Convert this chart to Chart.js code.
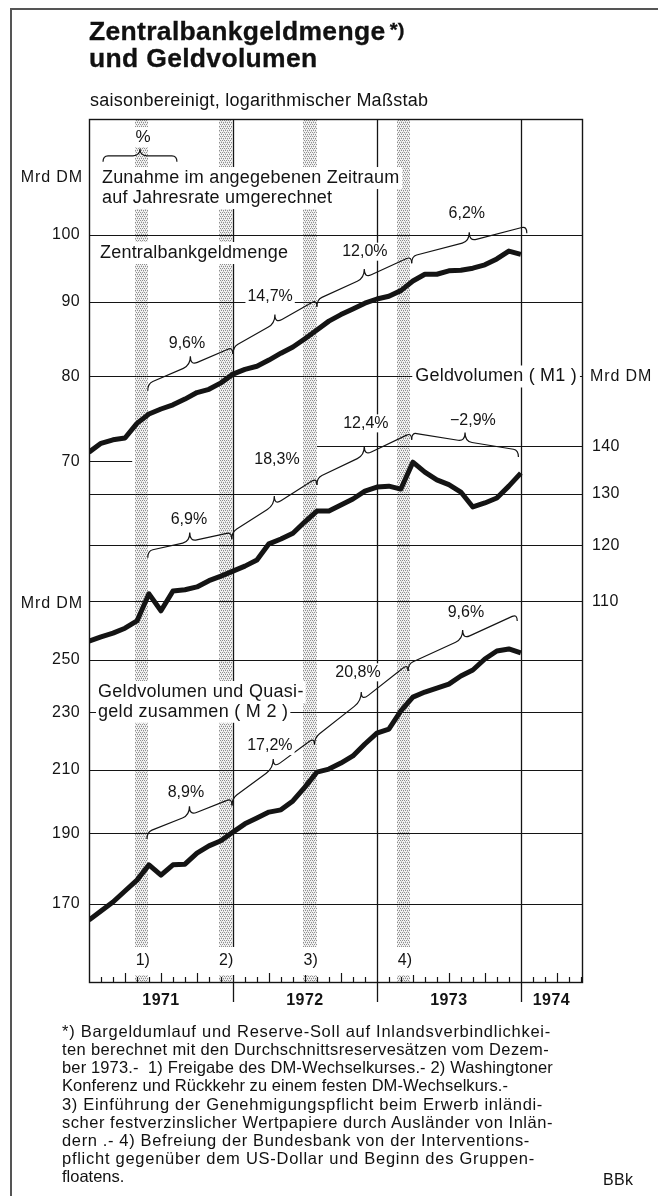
<!DOCTYPE html>
<html lang="de"><head><meta charset="utf-8">
<script src="https://cdn.jsdelivr.net/npm/chart.js@4.4.0/dist/chart.umd.min.js"></script>
<style>
html,body{margin:0;padding:0;background:#fff;}
body{width:658px;height:1196px;position:relative;overflow:hidden;font-family:"Liberation Sans",Arial,Helvetica,sans-serif;color:#111;}
#c{position:absolute;left:0;top:0;}
.fl{position:absolute;left:10px;top:8px;width:1.5px;height:1188px;background:#555;}
.ft{position:absolute;left:10px;top:8px;width:648px;height:1.5px;background:#555;}
#title{position:absolute;left:89px;top:19px;font-weight:bold;font-size:25px;line-height:24px;letter-spacing:0.3px;white-space:nowrap;z-index:2;transform:scaleX(1.06);transform-origin:0 0;-webkit-text-stroke:0.3px #111;}
#title .ast{font-size:19px;position:relative;top:-4px;margin-left:4px;}
#sub{position:absolute;left:90px;top:91px;font-size:18px;line-height:18px;letter-spacing:0.25px;white-space:nowrap;z-index:2;}
#foot{position:absolute;left:62px;top:1022px;font-size:16.5px;line-height:18.15px;z-index:2;}
#foot div{white-space:nowrap;height:18.15px;}
#bbk{position:absolute;left:603px;top:1171px;font-size:16px;line-height:18px;letter-spacing:0.3px;z-index:2;}
</style></head>
<body>
<div class="fl"></div><div class="ft"></div>
<div id="title">Zentralbankgeldmenge<span class="ast">*)</span><br>und Geldvolumen</div>
<div id="sub">saisonbereinigt, logarithmischer Maßstab</div>
<canvas id="c" width="658" height="1196"></canvas>
<div id="foot">
<div data-w="489">*) Bargeldumlauf und Reserve-Soll auf Inlandsverbindlichkei-</div>
<div data-w="487">ten berechnet mit den Durchschnittsreservesätzen vom Dezem-</div>
<div data-w="491">ber 1973.-&nbsp; 1) Freigabe des DM-Wechselkurses.- 2) Washingtoner</div>
<div data-w="446">Konferenz und Rückkehr zu einem festen DM-Wechselkurs.-</div>
<div data-w="481">3) Einführung der Genehmigungspflicht beim Erwerb inländi-</div>
<div data-w="491">scher festverzinslicher Wertpapiere durch Ausländer von Inlän-</div>
<div data-w="468">dern .- 4) Befreiung der Bundesbank von der Interventions-</div>
<div data-w="473">pflicht gegenüber dem US-Dollar und Beginn des Gruppen-</div>
<div>floatens.</div>
</div>
<div id="bbk">BBk</div>
<script>
// fit footnote lines to their printed widths
document.querySelectorAll('#foot div[data-w]').forEach(d => {
  const s = document.createElement('span'); s.innerHTML = d.innerHTML; d.innerHTML = ''; d.appendChild(s);
  const nat = s.getBoundingClientRect().width, n = s.textContent.length;
  d.style.letterSpacing = ((+d.dataset.w - nat) / n) + 'px';
});

// ---------------- data ----------------
const monthLabels = ['Dez 1970',
 'Jan 1971','Feb 1971','Mär 1971','Apr 1971','Mai 1971','Jun 1971','Jul 1971','Aug 1971','Sep 1971','Okt 1971','Nov 1971','Dez 1971',
 'Jan 1972','Feb 1972','Mär 1972','Apr 1972','Mai 1972','Jun 1972','Jul 1972','Aug 1972','Sep 1972','Okt 1972','Nov 1972','Dez 1972',
 'Jan 1973','Feb 1973','Mär 1973','Apr 1973','Mai 1973','Jun 1973','Jul 1973','Aug 1973','Sep 1973','Okt 1973','Nov 1973','Dez 1973'];
const zentralbankgeldmenge = [71.0,72.0,72.4,72.6,74.3,75.4,76.0,76.5,77.2,78.0,78.4,79.2,80.3,80.9,81.3,82.1,83.0,83.8,84.9,86.1,87.3,88.2,89.0,89.8,90.4,90.8,91.6,93.0,94.0,94.0,94.5,94.6,94.9,95.4,96.3,97.5,97.0];
const geldvolumenM1 = [103.4,104.1,104.7,105.5,106.7,111.3,108.4,111.8,112.0,112.5,113.6,114.4,115.3,116.2,117.3,120.3,121.2,122.3,124.5,126.6,126.6,127.8,129.0,130.6,131.4,131.6,131.0,136.6,134.5,132.9,131.9,130.4,127.4,128.2,129.2,131.6,134.3];
const geldvolumenM2 = [165.7,168.1,170.5,173.5,176.5,180.8,177.9,180.8,181.0,184.2,186.3,187.8,190.4,192.9,194.7,196.5,197.2,200.0,204.4,209.3,210.3,212.3,214.7,218.8,222.6,224.0,230.5,235.6,237.5,239.0,240.5,243.6,245.9,250.2,253.4,254.2,252.6];

const ticksZ = [100, 90, 80, 70];
const ticksM1 = [140, 130, 120, 110];
const ticksM2 = [250, 230, 210, 190, 170];
const years = ['1971', '1972', '1973', '1974'];
const eventLabels = ['1)', '2)', '3)', '4)'];
const eventSpans = [[3.85, 4.95], [10.8, 11.9], [17.8, 19.0], [25.7, 26.8]]; // in months since end of Dec 1970

// growth-rate braces: [from month, from value, to month, to value, label, label month, label value]
const ratesZ = [[4.9,79.1,12,83.8,'9,6%',8.17,84.2],[12,83.8,19,90.3,'14,7%',15.1,90.7],[19,90.3,26.9,96.7,'12,0%',23,97.4],[26.9,96.7,36.5,101.4,'6,2%',31.5,103.5]];
const ratesM1 = [[4.9,119.0,11.9,122.5,'6,9%',8.33,124.9],[11.9,122.5,19,133.3,'18,3%',15.67,137.2],[19,133.3,26.9,143.0,'12,4%',23.08,145.1],[26.9,143.0,35.8,139.2,'\u22122,9%',32,145.8]];
const ratesM2 = [[4.83,190.4,11.92,200.8,'8,9%',8.08,202.8],[11.92,200.8,18.8,221.0,'17,2%',15.08,218.1],[18.8,221.0,26.6,248.2,'20,8%',22.42,245.0],[26.6,248.2,35.7,268.6,'9,6%',31.42,269.4]];

// ---------------- layout ----------------
const W = 658, H = 1196, TOP = 119, BOTTOM = 982, LEFT = 89, RIGHT = 582;
const XMAX = 41.1;
function logRange(refVal, refPx, pxPerDecade) {
  const l = Math.log10(refVal);
  return { min: Math.pow(10, l - (BOTTOM - refPx) / pxPerDecade), max: Math.pow(10, l + (refPx - TOP) / pxPerDecade) };
}
const rZ = logRange(100, 235, 1460), rM1 = logRange(130, 494, 1480), rM2 = logRange(210, 770, 1459);
const FONT = '"Liberation Sans", Arial, Helvetica, sans-serif';
const INK = '#141414';

// stipple pattern for event bands
const pc = document.createElement('canvas'); pc.width = 4; pc.height = 4;
const pctx = pc.getContext('2d');
pctx.fillStyle = '#f2f2f2'; pctx.fillRect(0, 0, 4, 4);
pctx.fillStyle = '#8e8e8e';
[[0,0],[2,0],[1,2],[3,2]].forEach(([a,b]) => pctx.fillRect(a, b, 1, 1));
pctx.fillStyle = '#c4c4c4';
[[1,1],[3,3]].forEach(([a,b]) => pctx.fillRect(a, b, 1, 1));

function setSpacing(ctx, px) { if ('letterSpacing' in ctx) ctx.letterSpacing = px + 'px'; }
function text(ctx, s, x, y, opt) {
  opt = opt || {};
  ctx.font = opt.font || ('16px ' + FONT);
  setSpacing(ctx, opt.sp || 0);
  ctx.textAlign = opt.align || 'left';
  ctx.textBaseline = 'middle';
  if (opt.box) {
    const w = ctx.measureText(s).width;
    const lx = opt.align === 'center' ? x - w / 2 : opt.align === 'right' ? x - w : x;
    const bh = opt.bh || 20;
    ctx.fillStyle = '#fff';
    ctx.fillRect(lx - opt.box, y - bh / 2, w + 2 * opt.box, bh);
  }
  ctx.fillStyle = INK;
  ctx.fillText(s, x, y);
  setSpacing(ctx, 0);
}
function brace(ctx, x1, y1, x2, y2, hook, tip) {
  const yAt = x => y1 + (y2 - y1) * (x - x1) / (x2 - x1);
  const xm = (x1 + x2) / 2, r = 5;
  ctx.beginPath();
  ctx.moveTo(x1, yAt(x1) + hook);
  ctx.quadraticCurveTo(x1, yAt(x1), x1 + r, yAt(x1 + r));
  ctx.lineTo(xm - r - 2, yAt(xm - r - 2));
  ctx.quadraticCurveTo(xm, yAt(xm), xm, yAt(xm) - tip);
  ctx.quadraticCurveTo(xm, yAt(xm), xm + r + 2, yAt(xm + r + 2));
  ctx.lineTo(x2 - r, yAt(x2 - r));
  ctx.quadraticCurveTo(x2, yAt(x2), x2, yAt(x2) + hook);
  ctx.stroke();
}

const decor = {
  id: 'decor',
  beforeDatasetsDraw(chart) {
    const { ctx, chartArea: a, scales } = chart;
    const x = scales.x, yZ = scales.yZ, y1 = scales.yM1, y2 = scales.yM2;
    const px = m => x.getPixelForValue(m);
    ctx.save();
    // event bands
    ctx.fillStyle = ctx.createPattern(pc, 'repeat');
    eventSpans.forEach(([s, e]) => ctx.fillRect(Math.round(px(s)), a.top, Math.round(px(e) - px(s)), a.bottom - a.top));
    // horizontal grid lines
    ctx.strokeStyle = INK; ctx.lineWidth = 1.1;
    const hline = (sc, v, m0, m1) => { const yy = Math.round(sc.getPixelForValue(v)) + 0.5; ctx.beginPath(); ctx.moveTo(px(m0), yy); ctx.lineTo(px(m1), yy); ctx.stroke(); };
    ticksZ.forEach(v => hline(yZ, v, 0, v === 70 ? 3.6 : XMAX));
    ticksM1.forEach(v => hline(y1, v, v === 140 ? 19 : 0, XMAX));
    ticksM2.forEach(v => hline(y2, v, 0, XMAX));
    // year boundaries
    ctx.lineWidth = 1.3;
    [12, 24, 36].forEach(m => { const xx = Math.round(px(m)) + 0.5; ctx.beginPath(); ctx.moveTo(xx, a.top); ctx.lineTo(xx, a.bottom + 20); ctx.stroke(); });
    // frame
    ctx.lineWidth = 1.4;
    ctx.strokeRect(a.left + 0.5, a.top + 0.5, a.right - a.left, a.bottom - a.top);
    // month ticks
    ctx.lineWidth = 1.2;
    for (let m = 1; m < XMAX; m++) {
      if (m % 12 === 0) continue;
      const xx = Math.round(px(m)) + 0.5, h = m % 3 === 0 ? 9 : 5;
      ctx.beginPath(); ctx.moveTo(xx, a.bottom); ctx.lineTo(xx, a.bottom - h); ctx.stroke();
    }
    // year labels
    years.forEach((t, i) => {
      const s = i * 12, e = Math.min(XMAX, s + 12);
      text(ctx, t, px((s + e) / 2), a.bottom + 19, { font: 'bold 16px ' + FONT, align: 'center', sp: 0.4 });
    });
    // event labels
    eventSpans.forEach(([s, e], i) => text(ctx, eventLabels[i], px((s + e) / 2) + 1, a.bottom - 21, { align: 'center', box: 3, bh: 28 }));
    // axis labels left
    const lf = '16px ' + FONT;
    ticksZ.forEach(v => text(ctx, String(v), a.left - 9, yZ.getPixelForValue(v), { font: lf, align: 'right', sp: 0.4 }));
    ticksM2.forEach(v => text(ctx, String(v), a.left - 9, y2.getPixelForValue(v), { font: lf, align: 'right', sp: 0.4 }));
    text(ctx, 'Mrd DM', a.left - 6, yZ.getPixelForValue(109.5), { font: lf, align: 'right', sp: 0.9 });
    text(ctx, 'Mrd DM', a.left - 6, y1.getPixelForValue(110) + 2, { font: lf, align: 'right', sp: 0.9 });
    // axis labels right
    ticksM1.forEach(v => text(ctx, String(v), a.right + 10, y1.getPixelForValue(v), { font: lf, align: 'left', sp: 0.4 }));
    text(ctx, 'Mrd DM', a.right + 8, yZ.getPixelForValue(80), { font: lf, align: 'left', sp: 0.9 });
    // series captions
    const sf = '18px ' + FONT;
    text(ctx, 'Zunahme im angegebenen Zeitraum', px(1.08), yZ.getPixelForValue(109.4), { font: sf, sp: 0.2, box: 3, bh: 22 });
    text(ctx, 'auf Jahresrate umgerechnet', px(1.08), yZ.getPixelForValue(106.0), { font: sf, sp: 0.2, box: 3, bh: 22 });
    text(ctx, 'Zentralbankgeldmenge', px(0.92), yZ.getPixelForValue(97.2), { font: sf, sp: 0.2, box: 3, bh: 22 });
    text(ctx, 'Geldvolumen ( M1 )', px(27.2), yZ.getPixelForValue(80), { font: sf, sp: 0.2, box: 3, bh: 22 });
    text(ctx, 'Geldvolumen und Quasi-', px(0.75), y2.getPixelForValue(237.5), { font: sf, sp: 0.3, box: 2, bh: 22 });
    text(ctx, 'geld zusammen ( M 2 )', px(0.75), y2.getPixelForValue(230.2), { font: sf, sp: 0.3, box: 2, bh: 22 });
    // legend brace
    text(ctx, '%', px(4.5), yZ.getPixelForValue(116.7), { font: '17px ' + FONT, align: 'center', box: 4, bh: 20 });
    ctx.strokeStyle = INK; ctx.lineWidth = 1.2;
    brace(ctx, px(1.17), yZ.getPixelForValue(113.3), px(7.33), yZ.getPixelForValue(113.3), 6, 7);
    // growth braces
    const pf = '16px ' + FONT;
    [[ratesZ, yZ], [ratesM1, y1], [ratesM2, y2]].forEach(([list, sc]) => {
      list.forEach(([m0, v0, m1, v1, lab, lm, lv]) => {
        ctx.strokeStyle = INK; ctx.lineWidth = 1.2;
        brace(ctx, px(m0), sc.getPixelForValue(v0), px(m1), sc.getPixelForValue(v1), 7, 9);
        text(ctx, lab, px(lm), sc.getPixelForValue(lv), { font: pf, align: 'center', box: 2, bh: 18 });
      });
    });
    ctx.restore();
  }
};

const mk = (vals) => monthLabels.map((_, i) => ({ x: i, y: vals[i] }));
const lineStyle = { borderColor: INK, borderWidth: 5, pointRadius: 0, tension: 0, borderJoinStyle: 'round', borderCapStyle: 'butt', fill: false };

new Chart(document.getElementById('c'), {
  type: 'line',
  data: {
    datasets: [
      Object.assign({ label: 'Zentralbankgeldmenge', data: mk(zentralbankgeldmenge), yAxisID: 'yZ' }, lineStyle),
      Object.assign({ label: 'Geldvolumen (M1)', data: mk(geldvolumenM1), yAxisID: 'yM1' }, lineStyle),
      Object.assign({ label: 'Geldvolumen und Quasigeld (M2)', data: mk(geldvolumenM2), yAxisID: 'yM2' }, lineStyle)
    ]
  },
  options: {
    responsive: false, animation: false, events: [],
    layout: { padding: { left: LEFT, top: TOP, right: W - RIGHT, bottom: H - BOTTOM } },
    plugins: { legend: { display: false }, tooltip: { enabled: false }, title: { display: false } },
    scales: {
      x: { type: 'linear', min: 0, max: XMAX, display: false },
      yZ: { type: 'logarithmic', min: rZ.min, max: rZ.max, display: false },
      yM1: { type: 'logarithmic', min: rM1.min, max: rM1.max, display: false },
      yM2: { type: 'logarithmic', min: rM2.min, max: rM2.max, display: false }
    }
  },
  plugins: [decor]
});
</script>
</body></html>
